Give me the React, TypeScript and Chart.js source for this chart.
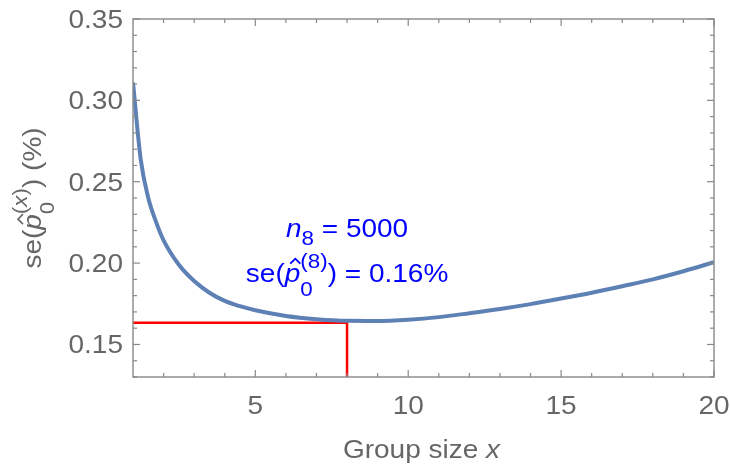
import React, { useEffect, useRef } from "react";
import { Chart, registerables } from "chart.js";

Chart.register(...registerables);

// Curve: standard error of p-hat vs group size x
const GROUP_SIZES = [1, 1.25, 1.5, 1.75, 2, 2.5, 3, 3.5, 4, 4.5, 5, 6, 7, 8, 9, 10, 11, 12, 13, 14, 15, 16, 17, 18, 19, 20];
const SE_VALUES = [
  0.311, 0.264, 0.24, 0.2255, 0.214, 0.199, 0.189, 0.1818, 0.1768, 0.1735, 0.171, 0.1675, 0.1655, 0.1645, 0.1644,
  0.1652, 0.1668, 0.1692, 0.1718, 0.1748, 0.1782, 0.1818, 0.1858, 0.19, 0.195, 0.2005,
];
// Red guide lines at the optimum (x = 8)
const GUIDE_X = [1, 8, 8];
const GUIDE_Y = [0.1633, 0.1633, 0.13];

const X_MIN = 1;
const X_MAX = 20;
const Y_MIN = 0.13;
const Y_MAX = 0.35;
const X_MAJOR = [5, 10, 15, 20];
const X_TICK_LABELS = ["5", "10", "15", "20"];
const X_MINOR = [2, 3, 4, 6, 7, 8, 9, 11, 12, 13, 14, 16, 17, 18, 19];
const Y_MAJOR = [0.15, 0.2, 0.25, 0.3, 0.35];
const Y_TICK_LABELS = ["0.15", "0.20", "0.25", "0.30", "0.35"];
const Y_MINOR = [0.13, 0.14, 0.16, 0.17, 0.18, 0.19, 0.21, 0.22, 0.23, 0.24, 0.26, 0.27, 0.28, 0.29, 0.31, 0.32, 0.33, 0.34];

const ANNOT_X = 8;
const ANNOT_Y1 = 0.216;
const ANNOT_Y2 = 0.1886;

const FAMILY = '"Liberation Sans", Arial, Helvetica, sans-serif';
const SX = 1.12;
const MAIN = 25;
const SCRIPT = 20;

type Run = { t: string; it?: boolean; sz?: number; dy?: number; adv?: number; hat?: boolean };

function font(r: Run) {
  return `${r.it ? "italic " : ""}${r.sz ?? MAIN}px ${FAMILY}`;
}

function drawRuns(
  ctx: CanvasRenderingContext2D,
  runs: Run[],
  x: number,
  y: number,
  align: "center" | "right",
  color: string
) {
  let total = 0;
  const widths: number[] = [];
  for (const r of runs) {
    ctx.font = font(r);
    const w = ctx.measureText(r.t).width;
    widths.push(w);
    total += r.adv ?? w;
  }
  ctx.save();
  ctx.translate(x, y);
  ctx.scale(SX, 1);
  ctx.fillStyle = color;
  ctx.strokeStyle = color;
  ctx.textAlign = "left";
  ctx.textBaseline = "alphabetic";
  let cur = align === "center" ? -total / 2 : -total;
  runs.forEach((r, i) => {
    ctx.font = font(r);
    const dy = r.dy ?? 0;
    ctx.fillText(r.t, cur, dy);
    if (r.hat) {
      const cx = cur + widths[i] / 2 + 2.5;
      ctx.lineWidth = 1.6;
      ctx.lineJoin = "miter";
      ctx.beginPath();
      ctx.moveTo(cx - 4.5, dy - 18);
      ctx.lineTo(cx, dy - 23);
      ctx.lineTo(cx + 4.5, dy - 18);
      ctx.stroke();
    }
    cur += r.adv ?? widths[i];
  });
  ctx.restore();
}

const framePlugin = {
  id: "mmaFrame",
  afterDatasetsDraw(chart: any) {
    const ctx: CanvasRenderingContext2D = chart.ctx;
    const { left, right, top, bottom } = chart.chartArea;
    const xs = chart.scales.x;
    const ys = chart.scales.y;
    const gray = "#888888";
    ctx.save();
    ctx.strokeStyle = gray;
    ctx.lineWidth = 1.4;
    ctx.strokeRect(left, top, right - left, bottom - top);
    const tick = (x1: number, y1: number, x2: number, y2: number) => {
      ctx.beginPath();
      ctx.moveTo(x1, y1);
      ctx.lineTo(x2, y2);
      ctx.stroke();
    };
    const MAJ = 7;
    const MIN = 4;
    ctx.lineWidth = 1.2;
    X_MAJOR.forEach((v) => {
      const p = xs.getPixelForValue(v);
      tick(p, bottom, p, bottom - MAJ);
      tick(p, top, p, top + MAJ);
    });
    X_MINOR.forEach((v) => {
      const p = xs.getPixelForValue(v);
      tick(p, bottom, p, bottom - MIN);
      tick(p, top, p, top + MIN);
    });
    Y_MAJOR.forEach((v) => {
      const p = ys.getPixelForValue(v);
      tick(left, p, left + MAJ, p);
      tick(right, p, right - MAJ, p);
    });
    Y_MINOR.forEach((v) => {
      const p = ys.getPixelForValue(v);
      tick(left, p, left + MIN, p);
      tick(right, p, right - MIN, p);
    });
    ctx.restore();

    const labelColor = "#666666";
    // tick labels
    Y_MAJOR.forEach((v, i) => {
      const p = ys.getPixelForValue(v);
      drawRuns(ctx, [{ t: Y_TICK_LABELS[i] }], left - 10, p + 9, "right", labelColor);
    });
    X_MAJOR.forEach((v, i) => {
      const p = xs.getPixelForValue(v);
      drawRuns(ctx, [{ t: X_TICK_LABELS[i] }], p, bottom + 36.5, "center", labelColor);
    });

    // x title
    drawRuns(
      ctx,
      [{ t: "Group size " }, { t: "x", it: true }],
      (left + right) / 2 - 2,
      bottom + 81,
      "center",
      labelColor
    );

    // y title (rotated)
    ctx.save();
    ctx.translate(left - 92, (top + bottom) / 2);
    ctx.rotate(-Math.PI / 2);
    drawRuns(
      ctx,
      [
        { t: "se(" },
        { t: "p", it: true, hat: true },
        { t: "0", sz: SCRIPT, dy: 13, adv: 0 },
        { t: "(", sz: SCRIPT, dy: -14 },
        { t: "x", it: true, sz: SCRIPT, dy: -14 },
        { t: ")", sz: SCRIPT, dy: -14 },
        { t: ") (%)" },
      ],
      0,
      0,
      "center",
      labelColor
    );
    ctx.restore();

    // annotations
    const blue = "#0000ff";
    const ax = xs.getPixelForValue(ANNOT_X);
    drawRuns(
      ctx,
      [{ t: "n", it: true }, { t: "8", sz: SCRIPT, dy: 8 }, { t: " = 5000" }],
      ax,
      ys.getPixelForValue(ANNOT_Y1),
      "center",
      blue
    );
    drawRuns(
      ctx,
      [
        { t: "se(" },
        { t: "p", it: true, hat: true },
        { t: "0", sz: SCRIPT, dy: 14, adv: 0 },
        { t: "(8)", sz: SCRIPT, dy: -14 },
        { t: ") = 0.16%" },
      ],
      ax,
      ys.getPixelForValue(ANNOT_Y2),
      "center",
      blue
    );
  },
};

export default function App() {
  const ref = useRef<HTMLCanvasElement | null>(null);
  useEffect(() => {
    if (!ref.current) return;
    const chart = new Chart(ref.current, {
      type: "line",
      data: {
        datasets: [
          {
            data: GROUP_SIZES.map((x, i) => ({ x, y: SE_VALUES[i] })),
            borderColor: "#5e81b5",
            borderWidth: 4,
            pointRadius: 0,
            cubicInterpolationMode: "monotone",
            fill: false,
          },
          {
            data: GUIDE_X.map((x, i) => ({ x, y: GUIDE_Y[i] })),
            borderColor: "#ff0000",
            borderWidth: 2.5,
            pointRadius: 0,
            tension: 0,
            fill: false,
          },
        ],
      },
      options: {
        animation: false,
        responsive: false,
        maintainAspectRatio: false,
        layout: { padding: { left: 133, right: 16, top: 19, bottom: 87 } },
        plugins: { legend: { display: false }, tooltip: { enabled: false } },
        scales: {
          x: { type: "linear", display: false, min: X_MIN, max: X_MAX },
          y: { type: "linear", display: false, min: Y_MIN, max: Y_MAX },
        },
      },
      plugins: [framePlugin],
    } as any);
    return () => chart.destroy();
  }, []);
  return (
    <div style={{ position: "absolute", left: 0, top: 0, width: 730, height: 464, background: "#fff" }}>
      <canvas ref={ref} width={730} height={464} style={{ display: "block" }} />
    </div>
  );
}
